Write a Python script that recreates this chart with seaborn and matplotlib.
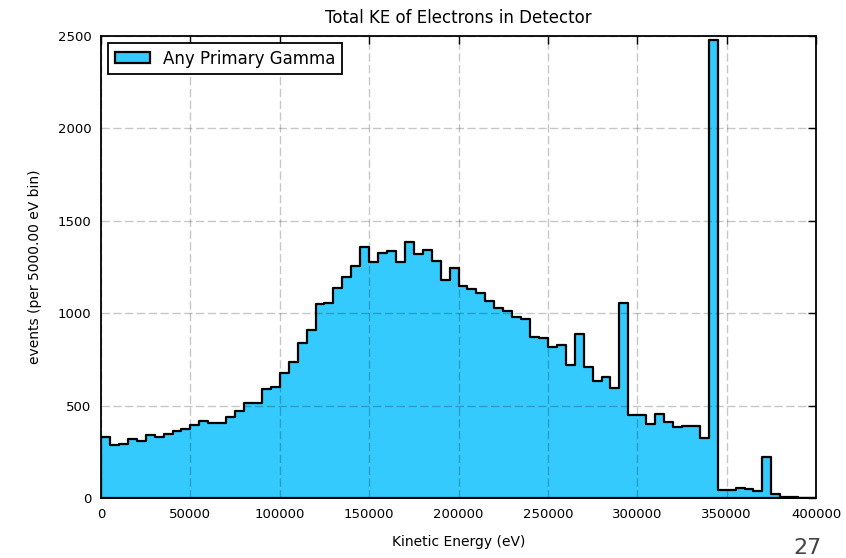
import numpy as np
import pandas as pd
import matplotlib
matplotlib.use("Agg")
import matplotlib.pyplot as plt
import seaborn as sns
from matplotlib.patches import Patch

# Histogram binning (eV)
bin_width = 5000
x_min, x_max = 0, 400000
bin_edges = np.arange(x_min, x_max + bin_width, bin_width)

# Counts per 5000 eV bin, total kinetic energy of electrons
counts = [
    328, 287, 292, 317, 308, 339, 328, 346, 364, 375,
    393, 417, 408, 408, 437, 469, 512, 516, 588, 600,
    675, 734, 837, 909, 1050, 1057, 1134, 1194, 1255, 1356,
    1275, 1324, 1336, 1278, 1385, 1318, 1342, 1284, 1179, 1243,
    1147, 1129, 1111, 1068, 1026, 1012, 981, 968, 873, 867,
    819, 828, 720, 887, 711, 635, 656, 593, 1053, 449,
    447, 400, 454, 409, 386, 390, 390, 323, 2478, 43,
    43, 56, 47, 38, 224, 20, 5, 3, 2, 1,
]

series_label = "Any Primary Gamma"
fill_color = "#34cafd"

df = pd.DataFrame({
    "energy": bin_edges[:-1] + bin_width / 2,
    "events": counts,
})

sns.set_style("white")
plt.rcParams["font.family"] = ["DejaVu Sans"]
plt.rcParams["text.color"] = "black"
plt.rcParams["axes.labelcolor"] = "black"

fig = plt.figure(figsize=(8.46, 5.58), dpi=100)
ax = fig.add_axes([0.1194, 0.1075, 0.8452, 0.828])

sns.histplot(
    data=df, x="energy", weights="events", binwidth=bin_width,
    binrange=(x_min, x_max),
    element="step", fill=True, color=fill_color, alpha=1.0,
    edgecolor="black", linewidth=1.6, ax=ax, legend=False,
)
for coll in ax.collections:
    coll.set_zorder(1)
# black step outline on top of the grid
for line in ax.lines:
    line.set_color("black")
    line.set_linewidth(1.6)
    line.set_zorder(3)

ax.set_xlim(x_min, x_max)
ax.set_ylim(0, 2500)
ax.set_xticks(np.arange(x_min, x_max + 1, 50000))
ax.set_yticks(np.arange(0, 2501, 500))
ax.ticklabel_format(style="plain", axis="both")

ax.set_axisbelow(False)
ax.grid(True, linestyle=(0, (6, 2.5)), color="black", alpha=0.22, linewidth=1.0)

ax.tick_params(direction="in", length=6, width=1, top=True, right=True,
               labelsize=9.5, colors="black", pad=7)
for spine in ax.spines.values():
    spine.set_visible(True)
    spine.set_color("black")
    spine.set_linewidth(1.3)
    spine.set_zorder(4)

ax.set_title("Total KE of Electrons in Detector", fontsize=12, pad=9)
ax.set_xlabel("Kinetic Energy (eV)", fontsize=10, labelpad=10)
ax.set_ylabel("events (per 5000.00 eV bin)", fontsize=10, labelpad=11)

handle = Patch(facecolor=fill_color, edgecolor="black", linewidth=1.6)
leg = ax.legend([handle], [series_label], loc="upper left", fontsize=12,
                frameon=True, fancybox=False, borderpad=0.4,
                handlelength=2.1, handleheight=0.64, handletextpad=0.8,
                borderaxespad=0.42)
leg.get_frame().set_edgecolor("black")
leg.get_frame().set_linewidth(1.3)
leg.get_frame().set_alpha(1.0)

fig.text(0.955, 0.0, "27", fontsize=16, color="#444444", ha="center", va="bottom")

fig.savefig("out.png", dpi=100, facecolor="white")
